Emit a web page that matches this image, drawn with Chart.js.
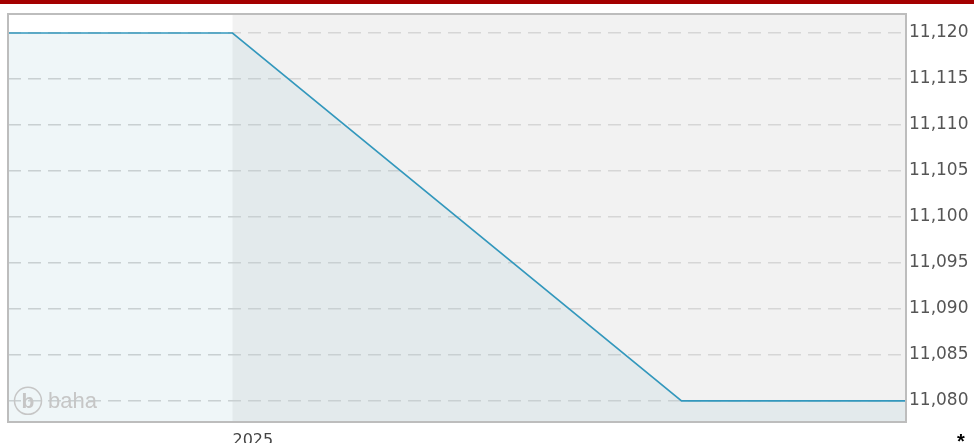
<!DOCTYPE html>
<html>
<head>
<meta charset="utf-8">
<script src="https://cdn.jsdelivr.net/npm/chart.js@4"></script>
<style>
  html, body { margin: 0; padding: 0; background: #fff; }
  #wrap { width: 974px; height: 443px; position: relative; }
</style>
</head>
<body>
<div id="wrap"><canvas id="priceChart" width="974" height="443"></canvas></div>
<script>
// price history (x in fractional years)
var times = [2024.75, 2025.0, 2025.5, 2025.75];
var prices = [11120, 11120, 11080, 11080];
var yTicks = [11080, 11085, 11090, 11095, 11100, 11105, 11110, 11115, 11120];
var xTicks = [2025];
var xLabels = ['2025'];
var bandEnd = 2025.0;

var FONT = '"DejaVu Sans", Verdana, sans-serif';

// backgrounds, red header bar, frame and logo
var decor = {
    id: 'decor',
    beforeDraw: function (chart) {
        var c = chart.ctx, a = chart.chartArea, x = chart.scales.x;
        c.save();
        c.fillStyle = '#a40000';
        c.fillRect(0, 0, chart.width, 4);
        var split = x.getPixelForValue(bandEnd);
        c.fillStyle = '#f2f2f2';
        c.fillRect(a.left, a.top, a.right - a.left, a.bottom - a.top);
        c.fillStyle = '#ffffff';
        c.fillRect(a.left, a.top, split - a.left, a.bottom - a.top);
        c.restore();
    },
    afterDatasetsDraw: function (chart) {
        var c = chart.ctx, a = chart.chartArea;
        c.save();
        // logo
        var cx = a.left + 20, cy = chart.scales.y.getPixelForValue(11080);
        c.strokeStyle = '#c6c6c6';
        c.lineWidth = 1.5;
        c.beginPath();
        c.arc(cx, cy, 13.5, 0, Math.PI * 2);
        c.stroke();
        c.fillStyle = '#c6c6c6';
        c.font = 'bold 21px "Liberation Sans", Arial, sans-serif';
        c.textAlign = 'center';
        c.textBaseline = 'middle';
        c.fillText('b', cx, cy + 1);
        c.font = '22px "Liberation Sans", Arial, sans-serif';
        c.textAlign = 'left';
        c.fillText('baha', cx + 20, cy + 1);
        // frame
        c.strokeStyle = '#bdbdbd';
        c.lineWidth = 2;
        c.strokeRect(a.left, a.top, a.right - a.left, a.bottom - a.top);
        // footnote marker
        c.fillStyle = '#000';
        c.font = 'bold 20px "Liberation Sans", Arial, sans-serif';
        c.textAlign = 'center';
        c.fillText('*', 961, 442);
        c.restore();
    }
};

var ctx = document.getElementById('priceChart').getContext('2d');
var priceChart = new Chart(ctx, {
    type: 'line',
    data: {
        datasets: [{
            data: times.map(function (t, i) { return { x: t, y: prices[i] }; }),
            borderColor: '#3398bd',
            borderWidth: 1.6,
            backgroundColor: 'rgba(46, 130, 160, 0.075)',
            fill: 'start',
            pointRadius: 0,
            tension: 0
        }]
    },
    options: {
        responsive: false,
        animation: false,
        layout: { padding: { left: 8, top: 14, right: 0, bottom: 0 } },
        plugins: { legend: { display: false }, tooltip: { enabled: false } },
        scales: {
            x: {
                type: 'linear',
                min: 2024.75,
                max: 2025.75,
                grid: { display: false },
                border: { display: false },
                afterBuildTicks: function (s) { s.ticks = xTicks.map(function (v) { return { value: v }; }); },
                afterFit: function (s) { s.height = 21; },
                ticks: {
                    align: 'start',
                    padding: 1,
                    color: '#444',
                    font: { size: 16, family: FONT },
                    callback: function (v) { return xLabels[xTicks.indexOf(v)]; }
                }
            },
            y: {
                position: 'right',
                min: 11077.7,
                max: 11122.07,
                border: { display: false, dash: [13, 7] },
                grid: { color: '#d6d6d6', lineWidth: 1.5, drawTicks: false },
                afterBuildTicks: function (s) { s.ticks = yTicks.map(function (v) { return { value: v }; }); },
                afterFit: function (s) { s.width = 68; },
                ticks: {
                    padding: 3,
                    color: '#555',
                    font: { size: 17, family: FONT },
                    callback: function (v) { return v.toLocaleString('en-US'); }
                }
            }
        }
    },
    plugins: [decor]
});
</script>
</body>
</html>
